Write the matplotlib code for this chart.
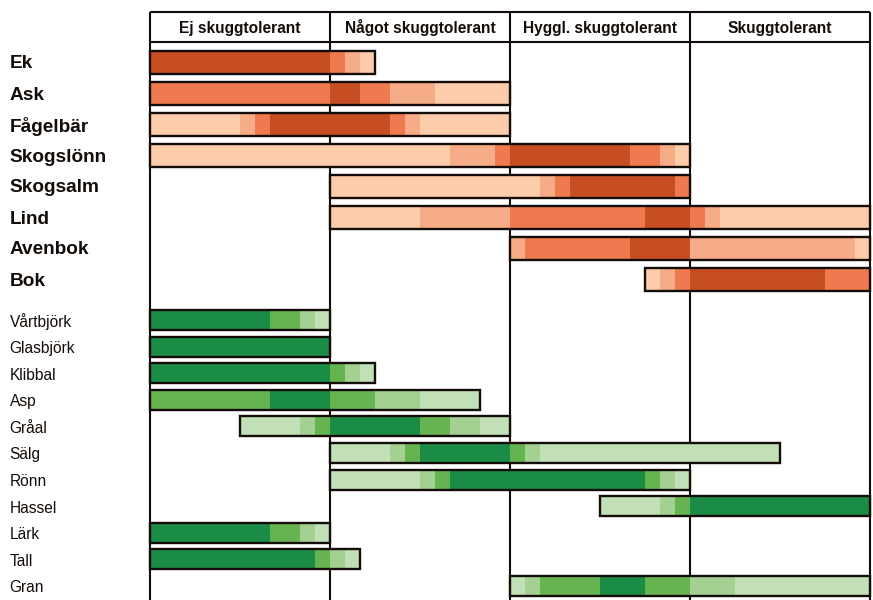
"""
Shade tolerance chart for Swedish tree species: one row per species,
coloured runs across four tolerance classes (orange = broadleaf,
green = pioneer / conifer). Writes out.png.
"""
import matplotlib
matplotlib.use("Agg")
import matplotlib.pyplot as plt

# --- data ---------------------------------------------------------------
# x unit = 1/12 of a tolerance class (4 classes -> 48 units)
classes = ["Ej skuggtolerant", "Något skuggtolerant",
           "Hyggl. skuggtolerant", "Skuggtolerant"]

# shade index: 0 lightest, 1 light, 2 medium, 3 dark
orange_names = ["Ek", "Ask", "Fågelbär", "Skogslönn", "Skogsalm",
                "Lind", "Avenbok", "Bok"]
orange_start = [0, 0, 0, 0, 12, 12, 24, 33]
orange_runs = [
    [(12, 3), (1, 2), (1, 1), (1, 0)],
    [(12, 2), (2, 3), (2, 2), (3, 1), (5, 0)],
    [(6, 0), (1, 1), (1, 2), (8, 3), (1, 2), (1, 1), (6, 0)],
    [(20, 0), (3, 1), (1, 2), (8, 3), (2, 2), (1, 1), (1, 0)],
    [(14, 0), (1, 1), (1, 2), (7, 3), (1, 2)],
    [(6, 0), (6, 1), (9, 2), (3, 3), (1, 2), (1, 1), (10, 0)],
    [(1, 1), (7, 2), (4, 3), (11, 1), (1, 0)],
    [(1, 0), (1, 1), (1, 2), (9, 3), (3, 2)],
]

green_names = ["Vårtbjörk", "Glasbjörk", "Klibbal", "Asp", "Gråal", "Sälg",
               "Rönn", "Hassel", "Lärk", "Tall", "Gran"]
green_start = [0, 0, 0, 0, 6, 12, 12, 30, 0, 0, 24]
green_runs = [
    [(8, 3), (2, 2), (1, 1), (1, 0)],
    [(12, 3)],
    [(12, 3), (1, 2), (1, 1), (1, 0)],
    [(8, 2), (4, 3), (3, 2), (3, 1), (4, 0)],
    [(4, 0), (1, 1), (1, 2), (6, 3), (2, 2), (2, 1), (2, 0)],
    [(4, 0), (1, 1), (1, 2), (6, 3), (1, 2), (1, 1), (16, 0)],
    [(6, 0), (1, 1), (1, 2), (13, 3), (1, 2), (1, 1), (1, 0)],
    [(4, 0), (1, 1), (1, 2), (12, 3)],
    [(8, 3), (2, 2), (1, 1), (1, 0)],
    [(11, 3), (1, 2), (1, 1), (1, 0)],
    [(1, 0), (1, 1), (4, 2), (3, 3), (3, 2), (3, 1), (9, 0)],
]

orange_cols = ["#FDCCAB", "#F7AC88", "#F07A4F", "#C74E23"]
green_cols = ["#C1E0B7", "#A4D091", "#66B450", "#1A8C45"]

# --- layout (figure pixels on y, class units on x) -------------------------
INK = "#140c08"
HEAD_TOP, HEAD_BOT, BOTTOM = 12, 42, 600
ORANGE_Y0, ORANGE_STEP, ORANGE_H = 62, 31, 23
GREEN_Y0, GREEN_STEP, GREEN_H = 320, 26.6, 20
LABEL_DY = 2  # labels sit a touch below the bar centre

plt.rcParams["font.family"] = ["Liberation Sans", "DejaVu Sans"]

fig = plt.figure(figsize=(8.73, 6.0), dpi=100)
ax = fig.add_axes([0, 0, 1, 1])
ax.set_xlim(-10, 48.2)
ax.set_ylim(BOTTOM, 0)
ax.axis("off")

n_cls = len(classes)
edges = [12 * i for i in range(n_cls + 1)]
ax.vlines(edges, HEAD_TOP, BOTTOM, color=INK, lw=1.5, zorder=1)
ax.hlines([HEAD_TOP, HEAD_BOT], 0, 48, color=INK, lw=1.5, zorder=1)
for i, name in enumerate(classes):
    ax.text(12 * i + 6, (HEAD_TOP + HEAD_BOT) / 2 + 1, name, ha="center",
            va="center", fontsize=11.2, fontweight="bold", color=INK)


def draw_group(names, starts, runs, cols, y0, step, h, bold):
    for i, (name, start, segs) in enumerate(zip(names, starts, runs)):
        y = y0 + i * step
        left = start
        for length, shade in segs:
            ax.barh(y, length, left=left, height=h, color=cols[shade],
                    linewidth=0, zorder=2)
            left += length
        ax.barh(y, left - start, left=start, height=h, fill=False,
                edgecolor=INK, linewidth=1.7, zorder=3)
        ax.text(-9.35, y + LABEL_DY, name, ha="left", va="center", color=INK,
                fontsize=13.7 if bold else 11.2,
                fontweight="bold" if bold else "normal")


draw_group(orange_names, orange_start, orange_runs, orange_cols,
           ORANGE_Y0, ORANGE_STEP, ORANGE_H, True)
draw_group(green_names, green_start, green_runs, green_cols,
           GREEN_Y0, GREEN_STEP, GREEN_H, False)

fig.savefig("out.png", dpi=100)
